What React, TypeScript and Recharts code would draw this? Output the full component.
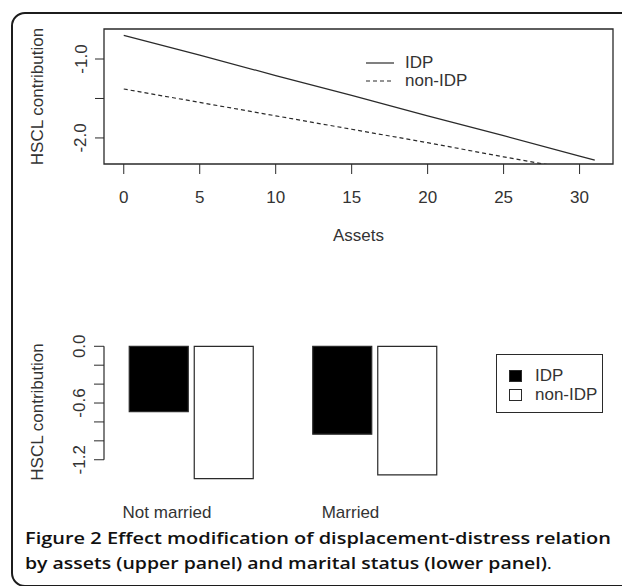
import React from 'react'
import {
	Bar,
	BarChart,
	Legend,
	Line,
	LineChart,
	ReferenceArea,
	ReferenceLine,
	XAxis,
	YAxis,
} from 'recharts'

// upper panel: HSCL contribution by assets
const assets = [0, 5, 10, 15, 20, 25, 30, 31]
const idpLine = [-0.7, -0.95, -1.21, -1.46, -1.72, -1.97, -2.23, -2.28]
const nonIdpLine = [-1.38, -1.55, -1.72, -1.89, -2.06, -2.24, -2.41, -2.44]
const assetTicks = [0, 5, 10, 15, 20, 25, 30]
const upperYTicks = [-2.0, -1.5, -1.0]
const upperYLabels = ['-2.0', '', '-1.0']

// lower panel: HSCL contribution by marital status
const maritalStatus = ['Not married', 'Married']
const idpBars = [-0.69, -0.93]
const nonIdpBars = [-1.4, -1.36]
const lowerYTicks = [0, -0.2, -0.4, -0.6, -0.8, -1.0, -1.2]
const lowerYLabels = ['0.0', '', '', '-0.6', '', '', '-1.2']

const seriesNames = ['IDP', 'non-IDP']

const FONT = '"Liberation Sans", Arial, Helvetica, sans-serif'
const INK = '#2a2a2a'
const TEXT = '#333'

const upperX: [number, number] = [-1.3, 32.2]
const upperY: [number, number] = [-2.33, -0.62]
const lowerY: [number, number] = [-1.446, 0.056]

const lineData = assets.map((a, i) => ({
	assets: a,
	idp: idpLine[i],
	nonIdp: nonIdpLine[i],
}))

const barData = maritalStatus.map((status, i) => ({
	status,
	idp: idpBars[i],
	nonIdp: nonIdpBars[i],
}))

const makeYTick = (ticks: number[], labels: string[]) => (props: any) => {
	const { x, y, payload } = props
	const idx = ticks.findIndex((t) => Math.abs(t - payload.value) < 1e-9)
	const label = labels[idx]
	if (!label) return <g />
	const cx = x - 12
	return (
		<text
			dominantBaseline="central"
			fill={TEXT}
			fontFamily={FONT}
			fontSize={17}
			textAnchor="middle"
			transform={`rotate(-90 ${cx} ${y})`}
			x={cx}
			y={y}
		>
			{label}
		</text>
	)
}

const yTitle = (props: any) => {
	const vb = props.viewBox
	const cx = vb.x + 37
	const cy = vb.y + vb.height / 2
	return (
		<text
			dominantBaseline="central"
			fill={TEXT}
			fontFamily={FONT}
			fontSize={17}
			textAnchor="middle"
			transform={`rotate(-90 ${cx} ${cy})`}
			x={cx}
			y={cy}
		>
			HSCL contribution
		</text>
	)
}

const assetsTitle = (props: any) => {
	const vb = props.viewBox
	return (
		<text
			dominantBaseline="central"
			fill={TEXT}
			fontFamily={FONT}
			fontSize={17}
			textAnchor="middle"
			x={vb.x + vb.width / 2}
			y={vb.y + 71}
		>
			Assets
		</text>
	)
}

const CategoryTick = (props: any) => {
	const { x, y, payload } = props
	return (
		<text
			dominantBaseline="central"
			fill={TEXT}
			fontFamily={FONT}
			fontSize={17}
			textAnchor="middle"
			x={x - 24}
			y={y + 29}
		>
			{payload.value}
		</text>
	)
}

const UpperLegend = () => (
	<div style={{ fontFamily: FONT, fontSize: 17, color: TEXT }}>
		{seriesNames.map((name, i) => (
			<div key={name} style={{ display: 'flex', alignItems: 'center', height: 18 }}>
				<svg height={18} width={28}>
					<line
						stroke={INK}
						strokeDasharray={i === 1 ? '4 3' : undefined}
						strokeWidth={1.2}
						x1={0}
						x2={28}
						y1={9}
						y2={9}
					/>
				</svg>
				<span style={{ marginLeft: 11, lineHeight: '18px' }}>{name}</span>
			</div>
		))}
	</div>
)

const LowerLegend = () => (
	<div
		style={{
			boxSizing: 'border-box',
			width: 107,
			height: 59,
			border: `1.3px solid ${INK}`,
			paddingTop: 11,
			fontFamily: FONT,
			fontSize: 17,
			color: TEXT,
		}}
	>
		{seriesNames.map((name, i) => (
			<div key={name} style={{ display: 'flex', alignItems: 'center', height: 19 }}>
				<div
					style={{
						marginLeft: 12,
						width: 11,
						height: 10,
						border: `1px solid ${INK}`,
						background: i === 0 ? '#000' : '#fff',
					}}
				/>
				<span style={{ marginLeft: 13, lineHeight: '19px' }}>{name}</span>
			</div>
		))}
	</div>
)

export default function App() {
	return (
		<div
			style={{
				position: 'absolute',
				left: 0,
				top: 0,
				width: 622,
				height: 586,
				overflow: 'hidden',
				background: '#fff',
			}}
		>
			<div
				style={{
					position: 'absolute',
					left: 11,
					top: 12,
					width: 700,
					height: 571,
					border: '2px solid #1c1c1c',
					borderRadius: 14,
				}}
			/>

			<div style={{ position: 'absolute', left: 0, top: 0 }}>
				<LineChart
					data={lineData}
					height={260}
					margin={{ top: 29, right: 9, bottom: 6, left: 0 }}
					width={622}
				>
					<XAxis
						allowDataOverflow
						axisLine={false}
						dataKey="assets"
						domain={upperX}
						height={90}
						interval={0}
						label={assetsTitle}
						stroke={INK}
						tick={{ fontSize: 17, fill: TEXT, fontFamily: FONT }}
						tickMargin={17}
						tickSize={10}
						ticks={assetTicks}
						type="number"
					/>
					<YAxis
						allowDataOverflow
						axisLine={false}
						domain={upperY}
						interval={0}
						label={yTitle}
						stroke={INK}
						tick={makeYTick(upperYTicks, upperYLabels)}
						tickSize={9}
						ticks={upperYTicks}
						type="number"
						width={104}
					/>
					<ReferenceArea
						fill="none"
						ifOverflow="visible"
						stroke={INK}
						strokeWidth={1.3}
						x1={upperX[0]}
						x2={upperX[1]}
						y1={upperY[0]}
						y2={upperY[1]}
					/>
					<Line
						dataKey="idp"
						dot={false}
						isAnimationActive={false}
						stroke={INK}
						strokeWidth={1.2}
						type="linear"
					/>
					<Line
						dataKey="nonIdp"
						dot={false}
						isAnimationActive={false}
						stroke={INK}
						strokeDasharray="4 3"
						strokeWidth={1.2}
						type="linear"
					/>
					<Legend
						align="center"
						content={UpperLegend}
						layout="horizontal"
						verticalAlign="middle"
						wrapperStyle={{ left: 366, top: 54, width: 150 }}
					/>
				</LineChart>
			</div>

			<div style={{ position: 'absolute', left: 0, top: 320 }}>
				<BarChart
					barGap={6}
					barSize={59}
					data={barData}
					height={210}
					margin={{ top: 21, right: 152, bottom: 0, left: 0 }}
					width={622}
				>
					<XAxis
						axisLine={false}
						dataKey="status"
						height={47}
						interval={0}
						padding={{ left: -4.75, right: 3.75 }}
						tick={<CategoryTick />}
						tickLine={false}
						tickMargin={0}
						tickSize={0}
					/>
					<XAxis domain={[0, 1]} hide type="number" xAxisId="edge" />
					<YAxis
						allowDataOverflow
						axisLine={false}
						domain={lowerY}
						interval={0}
						label={yTitle}
						stroke={INK}
						tick={makeYTick(lowerYTicks, lowerYLabels)}
						tickSize={10}
						ticks={lowerYTicks}
						type="number"
						width={104}
					/>
					<ReferenceLine
						segment={[
							{ x: 0, y: lowerYTicks[0] },
							{ x: 0, y: lowerYTicks[lowerYTicks.length - 1] },
						]}
						stroke={INK}
						strokeWidth={1.2}
						xAxisId="edge"
					/>
					<Bar
						dataKey="idp"
						fill="#000"
						isAnimationActive={false}
						stroke={INK}
						strokeWidth={1.2}
					/>
					<Bar
						dataKey="nonIdp"
						fill="#fff"
						isAnimationActive={false}
						stroke={INK}
						strokeWidth={1.2}
					/>
					<Legend
						align="center"
						content={LowerLegend}
						layout="horizontal"
						verticalAlign="middle"
						wrapperStyle={{ left: 496, top: 34, width: 107 }}
					/>
				</BarChart>
			</div>

			<svg
				height={66}
				style={{ position: 'absolute', left: 0, top: 520 }}
				width={622}
			>
				<text
					fill="#111"
					fontFamily='"Open Sans", "Noto Sans", sans-serif'
					fontSize={16}
					fontWeight={600}
					lengthAdjust="spacingAndGlyphs"
					textLength={586}
					x={25}
					y={24}
				>
					Figure 2 Effect modification of displacement-distress relation
				</text>
				<text
					fill="#111"
					fontFamily='"Open Sans", "Noto Sans", sans-serif'
					fontSize={16}
					fontWeight={600}
					lengthAdjust="spacingAndGlyphs"
					textLength={527}
					x={25}
					y={49}
				>
					by assets (upper panel) and marital status (lower panel)
					<tspan fontWeight={400}>.</tspan>
				</text>
			</svg>
		</div>
	)
}
